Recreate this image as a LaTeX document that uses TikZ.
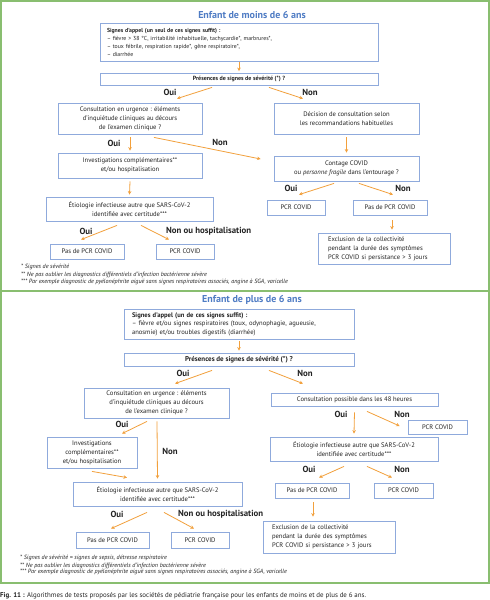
\documentclass[tikz,border=0pt]{standalone}
\usepackage{fontspec}
\setmainfont{PT Sans}
\usetikzlibrary{calc,arrows.meta}
\definecolor{boxblue}{RGB}{143,170,220}
\definecolor{titleblue}{RGB}{79,124,196}
\definecolor{arrorange}{RGB}{242,160,60}
\definecolor{framegreen}{RGB}{137,190,112}
\definecolor{txt}{RGB}{35,35,35}
\newcommand\fa{\fontsize{5.8}{8}\selectfont}
\newcommand\fb{\fontsize{6.6}{9}\selectfont}
\newcommand\fc{\fontsize{6.6}{8.5}\selectfont}
\newcommand\mkbox[6][]{\node[bx,#1,minimum width={#4-#2},minimum height={#5-#3}] (#6) at ({(#2+#4)/2},{(#3+#5)/2})}
\tikzset{
  bx/.style={draw=boxblue,line width=0.8pt,inner sep=0pt,align=center,font=\fb,text=txt},
  arr/.style={draw=arrorange,line width=0.8pt,-{Stealth[length=3.5pt,width=3.5pt]}},
  lab/.style={font=\fontsize{8.8}{9}\selectfont\bfseries,text=txt,inner sep=0pt},
  ttl/.style={font=\fontsize{10}{11}\selectfont\bfseries,text=titleblue,inner sep=0pt},
  fn/.style={font=\fontsize{6.1}{6.5}\selectfont\itshape,text=txt,inner sep=0pt,anchor=west},
}
\begin{document}
\begin{tikzpicture}[x=1pt,y=-1pt]
\useasboundingbox (0,0) rectangle (490,600);
\fill[white] (0,0) rectangle (490,600);
% frame
\draw[framegreen,line width=1.5pt] (1,1) rectangle (489,583);
\draw[framegreen,line width=1.5pt] (1,291) -- (489,291);

% ===== Panel 1 =====
\node[ttl] (t1) at (252,15) {Enfant de moins de 6 ans};
\mkbox[align=left,text width=264pt,inner xsep=7pt,font=\fa]{100}{23}{378}{61}{a1}{\textbf{Signes d’appel (un seul de ces signes suffit) :}\\– fièvre > 38 °C, irritabilité inhabituelle, tachycardie*, marbrures*,\\– toux fébrile, respiration rapide*, gêne respiratoire*,\\– diarrhée};
\mkbox[font=\fontsize{6}{8}\selectfont\bfseries]{100}{73}{378}{85}{p1}{Présences de signes de sévérité (*) ?};
\mkbox{58}{103}{202}{134}{c1}{Consultation en urgence : éléments\\d’inquiétude cliniques au décours\\de l’examen clinique ?};
\mkbox{274}{103}{419}{134}{d1}{Décision de consultation selon\\les recommandations habituelles};
\mkbox{58}{153}{202}{178}{i1}{Investigations complémentaires**\\et/ou hospitalisation};
\mkbox{274}{156}{419}{181}{k1}{Contage COVID\\ou \textit{personne fragile} dans l’entourage ?};
\mkbox{46}{197}{213}{221}{e1}{Étiologie infectieuse autre que SARS-CoV-2\\identifiée avec certitude***};
\mkbox{267}{200}{325}{215}{r1a}{PCR COVID};
\mkbox{353}{200}{427}{215}{r1b}{Pas de PCR COVID};
\mkbox[align=left,text width=112pt,inner xsep=10pt]{318}{233}{450}{264}{x1}{Exclusion de la collectivité\\pendant la durée des symptômes\\PCR COVID si persistance > 3 jours};
\mkbox{50}{244}{124}{259}{n1a}{Pas de PCR COVID};
\mkbox{156}{244}{214}{259}{n1b}{PCR COVID};

\draw[arr] ($(a1.south)+(0,1)$) -- ($(p1.north)+(0,-1.5)$);
\draw[arr] ($(p1.south)+(-27,2)$) -- ($(c1.north)+(47,-4)$);
\draw[arr] ($(p1.south)+(30,2)$) -- ($(d1.north)+(-43.5,-4)$);
\draw[arr] ($(c1.south)+(0,3)$) -- ($(i1.north)+(0,-2)$);
\draw[arr] ($(c1.south)+(24,3)$) -- ($(k1.west)+(-13,-9.5)$);
\draw[arr] ($(i1.south)+(0,3)$) -- ($(e1.north)+(0,-2)$);
\draw[arr] ($(d1.south)+(0,3)$) -- ($(k1.north)+(0,-3)$);
\draw[arr] ($(k1.south)+(-12.5,2)$) -- ($(r1a.north)+(3,-5)$);
\draw[arr] ($(k1.south)+(12.5,2)$) -- ($(r1b.north)+(3,-5)$);
\draw[arr] ($(r1b.south)+(2,5)$) -- ($(r1b.south |- x1.north)+(2,-3)$);
\draw[arr] ($(e1.south)+(-12.5,4)$) -- ($(n1a.north)+(-6,-4)$);
\draw[arr] ($(e1.south)+(11.5,4)$) -- ($(n1b.north)+(-16,-4)$);

\node[lab] (l1) at (170,92) {Oui};
\node[lab] (l2) at (310,92) {Non};
\node[lab] (l3) at (114,143) {Oui};
\node[lab] (l4) at (220,142) {Non};
\node[lab] (l5) at (291,188) {Oui};
\node[lab] (l6) at (403,188) {Non};
\node[lab] (l7) at (86,231) {Oui};
\node[lab,anchor=west] (l8) at (166,231) {Non ou hospitalisation};

\node[fn] (f1) at (21,267) {* Signes de sévérité};
\node[fn] (f2) at (21,275) {** Ne pas oublier les diagnostics différentiels d’infection bactérienne sévère};
\node[fn] (f3) at (21,282) {*** Par exemple diagnostic de pyélonéphrite aiguë sans signes respiratoires associés, angine à SGA, varicelle};

% ===== Panel 2 =====
\node[ttl] (t2) at (252,300) {Enfant de plus de 6 ans};
\mkbox[align=left,text width=214pt,inner xsep=8pt,font=\fc]{124}{309}{354}{339}{a2}{\textbf{Signes d’appel (un de ces signes suffit) :}\\– fièvre et/ou signes respiratoires (toux, odynophagie, agueusie,\\anosmie) et/ou troubles digestifs (diarrhée)};
\mkbox[font=\fontsize{7}{8}\selectfont\bfseries]{124}{353}{354}{366}{p2}{Présences de signes de sévérité (*) ?};
\mkbox{84}{388}{229}{418}{c2}{Consultation en urgence : éléments\\d’inquiétude cliniques au décours\\de l’examen clinique ?};
\mkbox{271}{393}{438}{406}{cp2}{Consultation possible dans les 48 heures};
\mkbox{408}{420}{467}{434}{q2}{PCR COVID};
\mkbox{47}{437}{137}{468}{i2}{Investigations\\complémentaires**\\et/ou hospitalisation};
\mkbox{270}{437}{438}{461}{e2r}{Étiologie infectieuse autre que SARS-CoV-2\\identifiée avec certitude***};
\mkbox{73}{482}{242}{506}{e2l}{Étiologie infectieuse autre que SARS-CoV-2\\identifiée avec certitude***};
\mkbox{275}{483}{349}{498}{s2a}{Pas de PCR COVID};
\mkbox{374}{483}{433}{498}{s2b}{PCR COVID};
\mkbox[align=left,text width=114pt,inner xsep=9pt]{263}{521}{395}{553}{x2}{Exclusion de la collectivité\\pendant la durée des symptômes\\PCR COVID si persistance > 3 jours};
\mkbox{76}{532}{149}{548}{m2a}{Pas de PCR COVID};
\mkbox{171}{532}{229}{548}{m2b}{PCR COVID};

\draw[arr] ($(a2.south)+(0,2)$) -- ($(p2.north)+(0,-2)$);
\draw[arr] ($(p2.south)+(-27,4)$) -- ($(c2.north)+(18.5,-4)$);
\draw[arr] ($(p2.south)+(30,4)$) -- ($(cp2.north)+(-51.5,-9)$);
\draw[arr] ($(cp2.south)+(0,6)$) -- ($(e2r.north)+(0,-3)$);
\draw[arr] ($(cp2.south)+(12.5,5)$) -- ($(q2.west)+(-8,-1)$);
\draw[arr] ($(e2r.south)+(-10,5)$) -- ($(s2a.north)+(7,-5)$);
\draw[arr] ($(e2r.south)+(13,5)$) -- ($(s2b.north)+(-11.5,-5)$);
\draw[arr] ($(s2a.south)+(1,4)$) -- ($(s2a.south |- x2.north)+(1,-4)$);
\draw[arr] ($(c2.south)+(-9.5,3)$) -- ($(i2.north)+(30,-3)$);
\draw[arr] ($(c2.south)+(0.5,3)$) -- ($(e2l.north)+(0,-3)$);
\draw[arr] ($(i2.south)+(0,3)$) -- ($(e2l.north)+(-30.5,-4)$);
\draw[arr] ($(e2l.south)+(-10.5,6)$) -- ($(m2a.north)+(-1.5,-3)$);
\draw[arr] ($(e2l.south)+(6.5,6)$) -- ($(m2b.north)+(-6,-3)$);

\node[lab] (k1l) at (183,373) {Oui};
\node[lab] (k2l) at (305,373) {Non};
\node[lab] (k3l) at (341,414) {Oui};
\node[lab] (k4l) at (402,414) {Non};
\node[lab] (k5l) at (122,424) {Oui};
\node[lab] (k6l) at (170,451) {Non};
\node[lab] (k7l) at (309,469) {Oui};
\node[lab] (k8l) at (402,469) {Non};
\node[lab] (k9l) at (117,514) {Oui};
\node[lab,anchor=west] (k10l) at (178,514) {Non ou hospitalisation};

\node[fn] (g1) at (20,558) {* Signes de sévérité = signes de sepsis, détresse respiratoire};
\node[fn] (g2) at (20,566) {** Ne pas oublier les diagnostics différentiels d’infection bactérienne sévère};
\node[fn] (g3) at (20,572) {*** Par exemple diagnostic de pyélonéphrite aiguë sans signes respiratoires associés, angine à SGA, varicelle};

\node[anchor=west,inner sep=0pt,font=\fontsize{6.9}{7}\selectfont,text=txt] (cap) at (0,596) {\textbf{Fig. 11 :} Algorithmes de tests proposés par les sociétés de pédiatrie française pour les enfants de moins et de plus de 6 ans.};
\end{tikzpicture}
\end{document}
